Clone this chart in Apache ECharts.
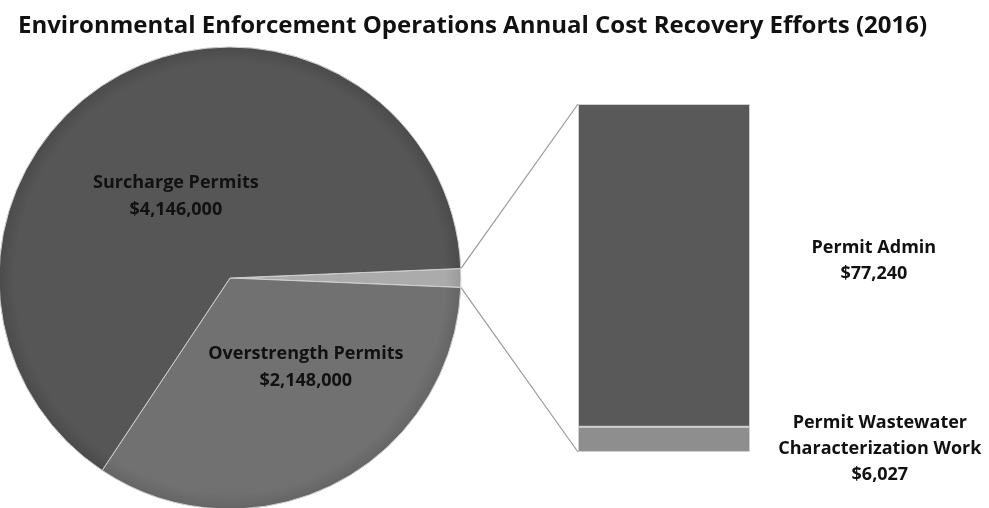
<!DOCTYPE html>
<html><head><meta charset="utf-8">
<script src="https://cdn.jsdelivr.net/npm/echarts@6/dist/echarts.min.js"></script>
<style>html,body{margin:0;padding:0;background:#fff}#c{width:989px;height:508px}</style>
</head><body><div id="c"></div>
<script>
const titleText = 'Environmental Enforcement Operations Annual Cost Recovery Efforts (2016)';
const pieNames = ['Other', 'Overstrength Permits', 'Surcharge Permits'];
const pieMainValues = [2148000, 4146000]; // Overstrength, Surcharge
const barNames = ['Permit Wastewater\nCharacterization Work', 'Permit Admin'];
const barValues = [6027, 77240]; // bottom, top

const otherTotal = barValues[0] + barValues[1];
const pieValues = [otherTotal, pieMainValues[0], pieMainValues[1]];
const grand = pieValues.reduce((a, b) => a + b, 0);
const otherAngle = 360 * otherTotal / grand;
const startAngle = otherAngle / 2;

const fmt = v => '$' + v.toLocaleString('en-US');
const FONT = 'Open Sans';

const cx = 230, cy = 278, R = 231;
const gridLeft = 578, gridTop = 104, gridW = 172, gridH = 348;

const radial = (inner, outer) => ({
  type: 'radial', x: cx, y: cy, r: R, global: true,
  colorStops: [{offset: 0, color: inner}, {offset: 0.93, color: inner}, {offset: 1, color: outer}]
});
const pieColors = [radial('#ababab', '#9a9a9a'), radial('#717171', '#656565'), radial('#565656', '#4b4b4b')];
const barColors = ['#8e8e8e', '#595959'];

const chart = echarts.init(document.getElementById('c'), null, {renderer: 'canvas'});
const option = {
  backgroundColor: '#ffffff',
  animation: false,
  title: {
    text: titleText, left: 13, top: 9,
    textStyle: {fontFamily: FONT, fontSize: 24, fontWeight: 'bold', color: '#111'}
  },
  grid: {left: gridLeft, top: gridTop, width: gridW, height: gridH},
  xAxis: {type: 'category', data: ['Other'], show: false},
  yAxis: {type: 'value', min: 0, max: otherTotal, show: false},
  series: [
    {
      type: 'pie', center: [cx, cy], radius: [0, R], startAngle: startAngle, clockwise: true,
      avoidLabelOverlap: false,
      itemStyle: {borderColor: '#cfcfcf', borderWidth: 1},
      label: {show: false},
      labelLine: {show: false},
      data: pieNames.map((n, i) => ({
        name: n, value: pieValues[i],
        itemStyle: {color: pieColors[i], borderColor: i === 0 ? '#e8e8e8' : '#cfcfcf'},
        label: i === 0 ? {show: false} : {
          show: true, position: 'inside',
          formatter: p => p.name + '\n' + fmt(p.value),
          fontFamily: FONT, fontSize: 18, fontWeight: 'bold', color: '#111', lineHeight: 27,
          offset: i === 1 ? [22, -16] : [4, 22]
        }
      }))
    },
    ...barNames.map((n, i) => ({
      type: 'bar', name: n, stack: 'other', barWidth: '100%',
      data: [barValues[i]],
      itemStyle: {color: barColors[i], borderColor: '#cfcfcf', borderWidth: 1},
      label: {
        show: true, position: ['172%', '50%'], align: 'center', verticalAlign: 'middle',
        formatter: p => p.seriesName + '\n' + fmt(p.value),
        fontFamily: FONT, fontSize: 18, fontWeight: 'bold', color: '#111', lineHeight: 26,
        offset: i === 0 ? [6, 9] : [0, -5]
      }
    }))
  ]
};
chart.setOption(option);

// connector lines from "Other" wedge edges to bar corners
const a1 = startAngle * Math.PI / 180, a2 = -startAngle * Math.PI / 180;
const p1 = [cx + R * Math.cos(a1), cy - R * Math.sin(a1)];
const p2 = [cx + R * Math.cos(a2), cy - R * Math.sin(a2)];
const yTop = chart.convertToPixel({yAxisIndex: 0}, otherTotal);
const yBot = chart.convertToPixel({yAxisIndex: 0}, 0);
chart.setOption({
  graphic: [
    {type: 'line', shape: {x1: p1[0], y1: p1[1], x2: gridLeft, y2: yTop}, style: {stroke: '#9a9a9a', lineWidth: 1.2}},
    {type: 'line', shape: {x1: p2[0], y1: p2[1], x2: gridLeft, y2: yBot}, style: {stroke: '#9a9a9a', lineWidth: 1.2}}
  ]
});
</script></body></html>
